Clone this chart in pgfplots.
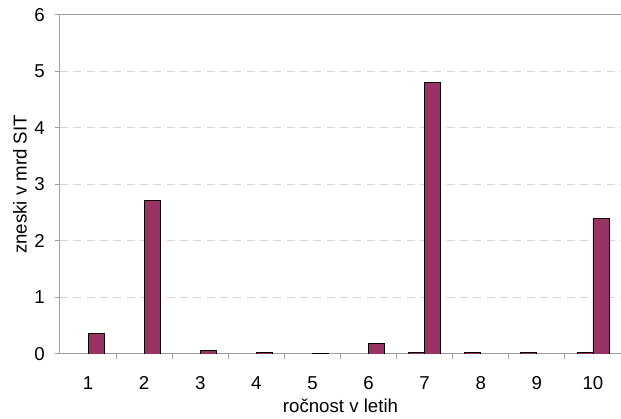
\documentclass[border=0pt]{standalone}
\usepackage{fontspec}
\setmainfont{Liberation Sans}
\usepackage{pgfplots}
\pgfplotsset{compat=1.18}
\definecolor{barc}{HTML}{993366}
\definecolor{axc}{HTML}{A0A0A0}
\definecolor{gridc}{HTML}{D4D4D4}
\begin{document}
\fontsize{14}{16}\selectfont
\begin{tikzpicture}
\begin{axis}[
  scale only axis, width=420.75pt, height=254.25pt,
  xmin=0.5, xmax=10.5, ymin=0, ymax=6,
  axis x line*=bottom, axis y line*=left,
  axis line style={axc, line width=0.75pt},
  xtick={1,...,10},
  minor xtick={1.5,2.5,...,9.5},
  ytick={0,...,6},
  tick align=outside,
  major tick length=3.75pt, minor tick length=3.75pt,
  major x tick style={draw=none},
  minor x tick style={axc, line width=0.75pt},
  major y tick style={axc, line width=0.75pt},
  ymajorgrids,
  major y grid style={gridc, line width=0.75pt, dash pattern=on 6pt off 4pt},
  /pgf/number format/assume math mode=true,
  xticklabel style={anchor=base, inner sep=0pt, yshift=-23.25pt},
  yticklabel style={anchor=east, inner sep=0pt, xshift=-7.5pt},
  tick label style={font=\fontsize{14}{16}\selectfont},
  label style={font=\fontsize{14}{16}\selectfont},
  xlabel={ročnost v letih},
  ylabel={zneski v mrd SIT},
  xlabel style={at={(axis description cs:0.5,0)}, anchor=base, inner sep=0pt, yshift=-44.25pt},
  ylabel style={at={(axis description cs:-0.0713,0.5)}, anchor=center},
  bar width=0.286,
]
\addplot[ybar, bar shift=-0.143, fill=barc, draw=black, line width=0.6pt]
  coordinates {(7,0.02) (8,0.02) (9,0.02) (10,0.02)};
\addplot[ybar, bar shift=0.143, fill=barc, draw=black, line width=0.6pt]
  coordinates {(1,0.37) (2,2.71) (3,0.06) (4,0.03) (5,0.015) (6,0.19) (7,4.80) (10,2.40)};
\draw[axc, line width=0.75pt] (rel axis cs:0,1) -- (rel axis cs:1,1);
\coordinate (ll) at (rel axis cs:0,0);
\coordinate (ur) at (rel axis cs:1,1);
\end{axis}
\pgfresetboundingbox
\path[use as bounding box] ([shift={(-45pt,-48.75pt)}]ll) rectangle ([yshift=11.25pt]ur);
\end{tikzpicture}
\end{document}
